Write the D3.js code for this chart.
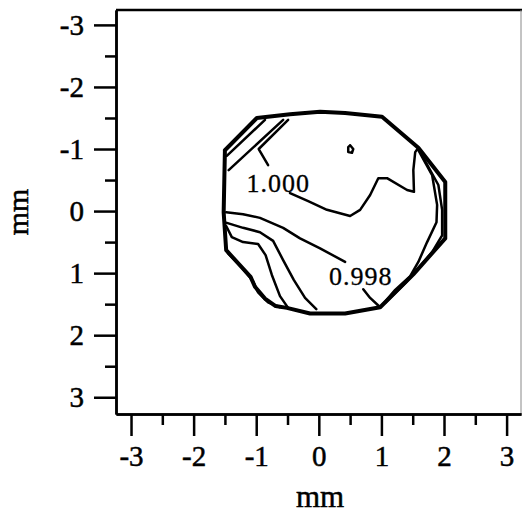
<!DOCTYPE html>
<html>
<head>
<meta charset="utf-8">
<script src="https://cdn.jsdelivr.net/npm/d3@7"></script>
<style>
  html, body { margin: 0; padding: 0; background: #fff; }
  svg { display: block; }
  text { font-family: "Liberation Serif", "Times New Roman", serif; fill: #000; stroke: #000; stroke-width: 0.5px; }
</style>
</head>
<body>
<svg width="522" height="514"></svg>
<script>
// TICKS (mm)
const xMajor = [-3, -2, -1, 0, 1, 2, 3];
const xMinor = [-2.5, -1.5, -0.5, 0.5, 1.5, 2.5];
const yMajor = [-3, -2, -1, 0, 1, 2, 3];
const yMinor = [-2.5, -1.5, -0.5, 0.5, 1.5, 2.5];

// CONTOUR LINES, [x mm, y mm]
const boundary = [
  [-1.50, -0.98], [-0.99, -1.50], [-0.46, -1.56], [0.02, -1.60], [0.42, -1.58],
  [1.01, -1.52], [1.59, -1.02], [2.02, -0.47], [2.02, 0.44], [1.51, 1.02],
  [0.98, 1.55], [0.42, 1.65], [-0.14, 1.65], [-0.51, 1.56], [-0.69, 1.53],
  [-0.86, 1.41], [-1.02, 1.22], [-1.09, 1.06], [-1.48, 0.63], [-1.52, 0.02],
  [-1.50, -0.98]
];
const cornerTL1 = [[-1.47, -0.89], [-0.86, -1.47]];
const cornerTL2 = [[-1.44, -0.66], [-0.57, -1.47]];
const level1000a = [[-0.49, -1.47], [-0.96, -1.00], [-0.81, -0.74]];
const level1000b = [
  [-0.46, -0.29], [-0.17, -0.16], [0.13, -0.02], [0.50, 0.08], [0.66, -0.02],
  [0.82, -0.26], [0.95, -0.53], [1.09, -0.53], [1.41, -0.34], [1.52, -0.31],
  [1.51, -0.66], [1.54, -0.95], [1.59, -1.02]
];
const rightIn1 = [
  [1.59, -0.98], [1.81, -0.58], [1.89, -0.10], [1.88, 0.18], [1.73, 0.50],
  [1.59, 0.82], [1.46, 1.05], [1.22, 1.27], [1.01, 1.52]
];
const rightIn2 = [
  [1.62, -0.95], [1.91, -0.42], [1.97, -0.02], [1.97, 0.39], [1.81, 0.66],
  [1.62, 0.89], [1.38, 1.16], [1.06, 1.48]
];
const level998a = [
  [-1.48, 0.02], [-1.21, 0.05], [-0.94, 0.11], [-0.57, 0.27], [-0.30, 0.44],
  [0.02, 0.60], [0.42, 0.82]
];
const level998b = [[0.71, 1.26], [0.82, 1.40], [0.98, 1.55]];
const lineX = [
  [-1.47, 0.19], [-1.21, 0.27], [-0.94, 0.34], [-0.73, 0.48], [-0.57, 0.79],
  [-0.40, 1.11], [-0.22, 1.40], [-0.04, 1.58]
];
const lineY = [
  [-1.48, 0.24], [-1.39, 0.42], [-1.21, 0.50], [-0.97, 0.53], [-0.85, 0.71],
  [-0.75, 1.03], [-0.62, 1.37], [-0.49, 1.56]
];
const lineZ = [
  [-1.45, 0.68], [-1.24, 0.90], [-1.05, 1.13], [-0.97, 1.31], [-0.81, 1.47],
  [-0.62, 1.55]
];
const smallLoop = [[0.50, -1.06], [0.55, -1.00], [0.53, -0.94], [0.47, -0.95], [0.47, -1.03], [0.50, -1.06]];

const contourLabels = [
  { text: "1.000", x: -0.65, y: -0.31 },
  { text: "0.998", x: 0.67, y: 1.19 }
];

// SCALES
let svg = d3.select('svg');
let x = d3.scaleLinear().domain([-3.24, 3.23]).range([116, 521]);
let y = d3.scaleLinear().domain([-3.24, 3.27]).range([10, 414]);

// FRAME (top and right)
svg.append('line').attr('x1', 116).attr('x2', 522).attr('y1', 10).attr('y2', 10)
  .attr('stroke', '#000').attr('stroke-width', 2.5);
svg.append('line').attr('x1', 521).attr('x2', 521).attr('y1', 10).attr('y2', 414)
  .attr('stroke', '#888').attr('stroke-width', 1);

// AXES
function styleAxis(g) {
  g.attr('font-family', null).attr('font-size', null);
  g.selectAll('path, line').attr('stroke', '#000').attr('stroke-width', 2.5);
  g.selectAll('text').attr('font-size', 29).style('font-family', '"Liberation Serif", serif');
}

svg.append('g').attr('transform', 'translate(0,414)')
  .call(d3.axisBottom(x).tickValues(xMinor).tickSize(11).tickSizeOuter(0).tickFormat(''))
  .call(styleAxis);
svg.append('g').attr('transform', 'translate(0,414)')
  .call(d3.axisBottom(x).tickValues(xMajor).tickSize(22).tickSizeOuter(0).tickPadding(9).tickFormat(d3.format('d')))
  .call(styleAxis);

svg.append('g').attr('transform', 'translate(116,0)')
  .call(d3.axisLeft(y).tickValues(yMinor).tickSize(11).tickSizeOuter(0).tickFormat(''))
  .call(styleAxis);
svg.append('g').attr('transform', 'translate(116,0)')
  .call(d3.axisLeft(y).tickValues(yMajor).tickSize(22).tickSizeOuter(0).tickPadding(10).tickFormat(d3.format('d')))
  .call(styleAxis);

// replace the unicode minus with a hyphen like the original
svg.selectAll('.tick text').text(function () { return this.textContent.replace('\u2212', '-'); });

// AXIS TITLES
svg.append('text').attr('x', 320).attr('y', 507).attr('text-anchor', 'middle')
  .attr('font-size', 31).text('mm');
svg.append('text').attr('transform', 'translate(28,212) rotate(-90)')
  .attr('text-anchor', 'middle').attr('font-size', 30).text('mm');

// CONTOURS
let line = d3.line().x(d => x(d[0])).y(d => y(d[1]));
let plot = svg.append('g').attr('fill', 'none').attr('stroke', '#000')
  .attr('stroke-linejoin', 'round').attr('stroke-linecap', 'round');

[cornerTL1, cornerTL2, level1000a, level1000b, rightIn1, rightIn2,
 level998a, level998b, lineX, lineY, lineZ, smallLoop].forEach(pts => {
  plot.append('path').attr('d', line(pts)).attr('stroke-width', 2.5);
});
plot.append('path').attr('d', line(boundary)).attr('stroke-width', 4);

// CONTOUR LABELS
contourLabels.forEach(d => {
  svg.append('text').attr('x', x(d.x)).attr('y', y(d.y)).attr('text-anchor', 'middle')
    .attr('font-size', 26).attr('letter-spacing', 1).style('stroke-width', '0.3px').text(d.text);
});
</script>
</body>
</html>
